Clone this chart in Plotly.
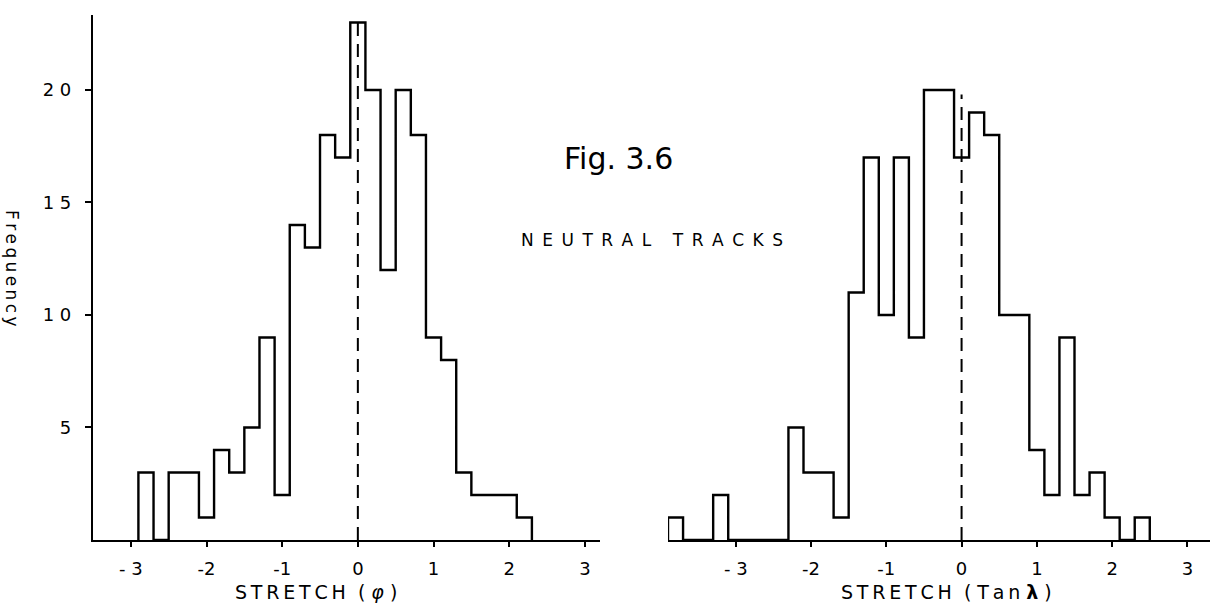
import plotly.graph_objects as go

# ---------------- data ----------------
bin_width = 0.2

# STRETCH (phi) histogram: bin centres and counts
phi_centers = [-2.8, -2.6, -2.4, -2.2, -2.0, -1.8, -1.6, -1.4, -1.2, -1.0,
               -0.8, -0.6, -0.4, -0.2, 0.0, 0.2, 0.4, 0.6, 0.8, 1.0,
               1.2, 1.4, 1.6, 1.8, 2.0, 2.2]
phi_counts = [3, 0, 3, 3, 1, 4, 3, 5, 9, 2,
              14, 13, 18, 17, 23, 20, 12, 20, 18, 9,
              8, 3, 2, 2, 2, 1]

# STRETCH (Tan lambda) histogram: bin centres and counts
tan_centers = [-3.8, -3.6, -3.4, -3.2, -3.0, -2.8, -2.6, -2.4, -2.2, -2.0,
               -1.8, -1.6, -1.4, -1.2, -1.0, -0.8, -0.6, -0.4, -0.2, 0.0,
               0.2, 0.4, 0.6, 0.8, 1.0, 1.2, 1.4, 1.6, 1.8, 2.0,
               2.2, 2.4]
tan_counts = [1, 0, 0, 2, 0, 0, 0, 0, 5, 3,
              3, 1, 11, 17, 10, 17, 9, 20, 20, 17,
              19, 18, 10, 10, 4, 2, 9, 2, 3, 1,
              0, 1]

x_tick_vals = [-3, -2, -1, 0, 1, 2, 3]
x_tick_text = ["- 3", "-2", "-1", "0", "1", "2", "3"]
y_tick_vals = [5, 10, 15, 20]
y_tick_text = ["5", "1 0", "1 5", "2 0"]

# dashed reference line tops (in count units)
phi_ref_top = 23.3
tan_ref_top = 19.8


def step_outline(centers, counts, w):
    xs = [centers[0] - w / 2]
    ys = [0]
    for c, v in zip(centers, counts):
        xs.append(c - w / 2)
        ys.append(v)
    xs.append(centers[-1] + w / 2)
    ys.append(0)
    return xs, ys


def spaced(s, sep="\u2009"):
    return sep.join(list(s))


FONT = "DejaVu Sans"
fig = go.Figure()

px, py = step_outline(phi_centers, phi_counts, bin_width)
tx, ty = step_outline(tan_centers, tan_counts, bin_width)

fig.add_trace(go.Scatter(x=px, y=py, mode="lines", line=dict(shape="hv", color="black", width=2.4),
                         xaxis="x", yaxis="y", showlegend=False, hoverinfo="skip"))
fig.add_trace(go.Scatter(x=tx, y=ty, mode="lines", line=dict(shape="hv", color="black", width=2.4),
                         xaxis="x2", yaxis="y2", showlegend=False, hoverinfo="skip"))

# dashed zero lines
fig.add_trace(go.Scatter(x=[0, 0], y=[0, phi_ref_top], mode="lines",
                         line=dict(color="black", width=2, dash="13px,8px"),
                         xaxis="x", yaxis="y", showlegend=False, hoverinfo="skip"))
fig.add_trace(go.Scatter(x=[0, 0], y=[0, tan_ref_top], mode="lines",
                         line=dict(color="black", width=2, dash="13px,8px"),
                         xaxis="x2", yaxis="y2", showlegend=False, hoverinfo="skip"))

W, H = 1216, 607
ml, mr, mt, mb = 93, 6, 15, 67
pw = W - ml - mr
ph = H - mt - mb

xcommon = dict(showline=True, linecolor="black", linewidth=2.2, ticks="outside", ticklen=5,
               tickwidth=2, tickcolor="black", tickvals=x_tick_vals, ticktext=x_tick_text,
               showgrid=False, zeroline=False, ticklabelstandoff=6,
               tickfont=dict(family=FONT, size=18, color="black"))


def ann(text, x, y, size, angle=0):
    return dict(text=text, x=(x - ml) / pw, y=1 - (y - mt) / ph, xref="paper", yref="paper",
                xanchor="center", yanchor="middle", showarrow=False, textangle=angle,
                font=dict(family=FONT, size=size, color="black"))


fig.update_layout(
    width=W, height=H,
    margin=dict(l=ml, r=mr, t=mt, b=mb),
    paper_bgcolor="white", plot_bgcolor="white",
    xaxis=dict(domain=[0, (600 - ml) / pw], range=[-3.5, 3.2], anchor="y", **xcommon),
    xaxis2=dict(domain=[(668 - ml) / pw, 1], range=[-3.9, 3.3], anchor="y2", **xcommon),
    yaxis=dict(range=[0, 23.33], showline=True, linecolor="black", linewidth=2.2, ticks="outside",
               ticklen=6, tickwidth=2, tickcolor="black", tickvals=y_tick_vals, ticktext=y_tick_text,
               showgrid=False, zeroline=False, anchor="x", ticklabelstandoff=10,
               tickfont=dict(family=FONT, size=18, color="black")),
    yaxis2=dict(range=[0, 23.33], showline=False, showticklabels=False, ticks="",
                showgrid=False, zeroline=False, anchor="x2"),
    annotations=[
        ann(spaced("STRETCH") + "  ( <i>φ</i> )", 316, 592, 19),
        ann(spaced("STRETCH") + "  ( " + spaced("Tan") + " <b>λ</b> )", 946, 592, 19),
        ann(spaced("Frequency"), 12, 268, 17, 90),
        ann("Fig. 3.6", 618, 159, 30),
        ann(spaced("NEUTRAL", "\u2002") + "    " + spaced("TRACKS", "\u2002"), 652, 240, 17),
    ],
)

fig.write_html("out.html")
